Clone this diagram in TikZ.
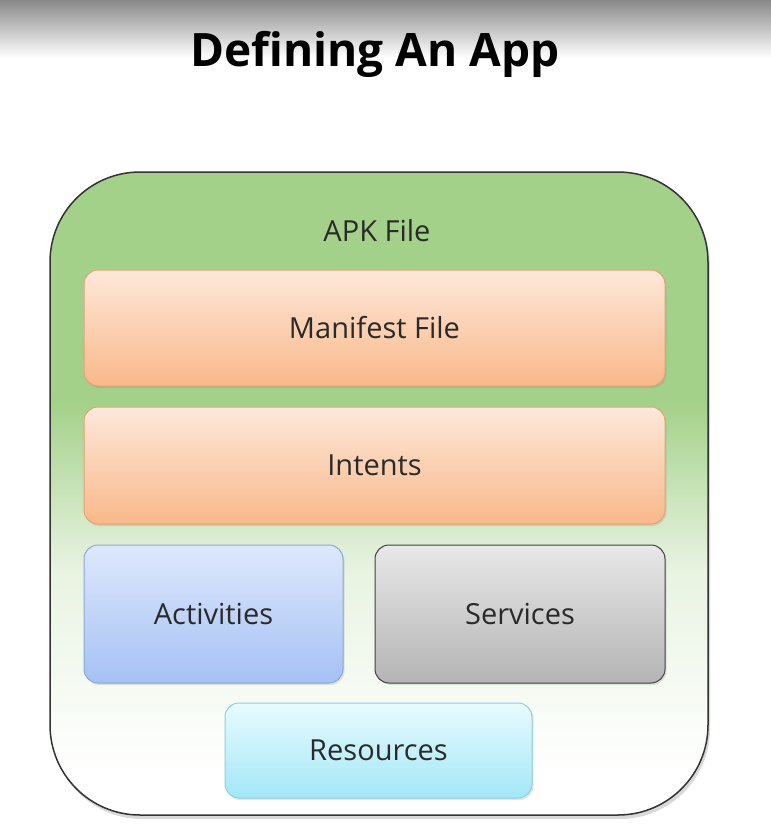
\documentclass[tikz,border=0pt]{standalone}
\usepackage{fontspec}
\setmainfont{Open Sans}
\usetikzlibrary{shadows}

\definecolor{barGray}{HTML}{898989}
\definecolor{apkGreen}{HTML}{A4D18A}
\definecolor{labelText}{HTML}{2A2A2A}
\definecolor{orangeTop}{HTML}{FDE8DA}
\definecolor{orangeBot}{HTML}{F9B88A}
\definecolor{orangeLine}{HTML}{E3A274}
\definecolor{blueTop}{HTML}{DEE8FC}
\definecolor{blueBot}{HTML}{A5C1F4}
\definecolor{blueLine}{HTML}{8BA7D8}
\definecolor{grayTop}{HTML}{E8E8E8}
\definecolor{grayBot}{HTML}{B4B4B4}
\definecolor{cyanTop}{HTML}{E8FBFE}
\definecolor{cyanBot}{HTML}{A3E7F7}
\definecolor{cyanLine}{HTML}{8FCFE0}

% green fading down to white inside the apk box
\pgfdeclareverticalshading{apkshade}{100bp}{color(0bp)=(white); color(28bp)=(white); color(44bp)=(apkGreen!25!white); color(57bp)=(apkGreen); color(100bp)=(apkGreen)}

\tikzset{
  part/.style={rounded corners=14pt, line width=1pt, text=labelText,
    font=\fontsize{29}{34}\selectfont,
    drop shadow={opacity=0.2, shadow xshift=1.5pt, shadow yshift=-2pt}},
}

\begin{document}
\begin{tikzpicture}[x=1pt, y=1pt]
  \useasboundingbox (0,0) rectangle (771,-831);
  \shade[top color=barGray, bottom color=white] (0,0) rectangle (771,-58);
  \node[anchor=base, font=\fontsize{46}{52}\selectfont\bfseries] (title) at (375,-66) {Defining An App};

  \node[draw=black!80, line width=1.5pt, rounded corners=90pt, shading=apkshade,
        minimum width=658, minimum height=643,
        drop shadow={opacity=0.3, shadow xshift=2pt, shadow yshift=-4pt}] (apk) at (379,-493.5) {};
  \node[text=labelText, font=\fontsize{29}{34}\selectfont] (apklabel) at (377,-231) {APK File};

  \node[part, draw=orangeLine, top color=orangeTop, bottom color=orangeBot,
        minimum width=581, minimum height=116] (manifest) at (374.5,-328) {Manifest File};
  \node[part, draw=orangeLine, top color=orangeTop, bottom color=orangeBot,
        minimum width=581, minimum height=117] (intents) at (374.5,-465.5) {Intents};
  \node[part, draw=blueLine, top color=blueTop, bottom color=blueBot,
        minimum width=259, minimum height=138] (activities) at (213.5,-614) {Activities};
  \node[part, draw=black!75, top color=grayTop, bottom color=grayBot,
        minimum width=290, minimum height=138] (services) at (520,-614) {Services};
  \node[part, draw=cyanLine, top color=cyanTop, bottom color=cyanBot,
        minimum width=307, minimum height=95] (resources) at (378.5,-750.5) {Resources};
\end{tikzpicture}
\end{document}
